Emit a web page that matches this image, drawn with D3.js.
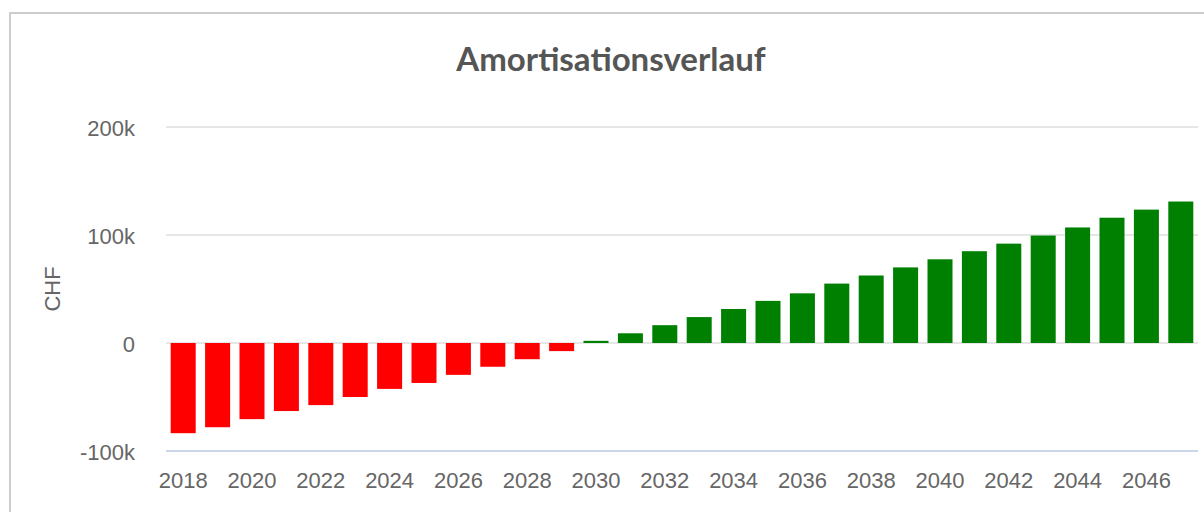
<!DOCTYPE html>
<html>
<head>
<meta charset="utf-8">
<script src="https://cdn.jsdelivr.net/npm/d3@7"></script>
<style>
  body { margin: 0; background: #fff; }
  svg { display: block; }
</style>
</head>
<body>
<svg id="chart"></svg>
<script>
// Amortisation per year (CHF)
const years = d3.range(2018, 2048).map(String);
const amortisation = [
  -83500, -78000, -70500, -63000, -57500, -50000, -42500, -37000, -29500, -22000, -15000, -7500,
  2000, 9000, 16500, 24000, 31500, 39000, 46000, 55000, 62500, 70000, 77500, 85000, 92000,
  99500, 107000, 116000, 123500, 131000
];
const yTicks = [-100000, 0, 100000, 200000];
const xTickLabels = years.filter((d, i) => i % 2 === 0);

const width = 1204;
const height = 512;
const plot = { left: 166, right: 1198, top: 127, bottom: 451 };

const svg = d3.select("#chart")
  .attr("width", width)
  .attr("height", height);

// chart container border
svg.append("rect")
  .attr("x", 10)
  .attr("y", 13)
  .attr("width", 1400)
  .attr("height", 700)
  .attr("fill", "none")
  .attr("stroke", "#cccccc")
  .attr("stroke-width", 2);

// title
svg.append("text")
  .attr("x", 611)
  .attr("y", 71)
  .attr("text-anchor", "middle")
  .style("font-family", "Lato, 'Open Sans', sans-serif")
  .style("font-weight", 700)
  .style("font-size", "33px")
  .style("fill", "#555555")
  .text("Amortisationsverlauf");

// scales
const x = d3.scaleBand()
  .domain(years)
  .range([plot.left, plot.right])
  .paddingInner(0.273)
  .paddingOuter(0.1365);

const y = d3.scaleLinear()
  .domain([-100000, 200000])
  .range([plot.bottom, plot.top]);

// grid lines
svg.append("g")
  .selectAll("line")
  .data(yTicks.filter(d => d !== -100000))
  .join("line")
  .attr("x1", plot.left)
  .attr("x2", plot.right)
  .attr("y1", d => y(d))
  .attr("y2", d => y(d))
  .attr("stroke", "#e6e6e6")
  .attr("stroke-width", 2);

// bars
svg.append("g")
  .selectAll("rect")
  .data(amortisation)
  .join("rect")
  .attr("x", (d, i) => x(years[i]))
  .attr("width", x.bandwidth())
  .attr("y", d => y(Math.max(0, d)))
  .attr("height", d => Math.abs(y(d) - y(0)))
  .attr("fill", d => d < 0 ? "#ff0000" : "#008000");

// x axis
const xAxis = svg.append("g")
  .attr("transform", `translate(0,${plot.bottom})`)
  .call(d3.axisBottom(x).tickValues(xTickLabels).tickSize(0).tickPadding(21));
xAxis.select(".domain").remove();
xAxis.append("line")
  .attr("x1", plot.left)
  .attr("x2", plot.right)
  .attr("stroke", "#ccd6eb")
  .attr("stroke-width", 2);

// y axis
const yAxis = svg.append("g")
  .attr("transform", `translate(${plot.left},0)`)
  .call(d3.axisLeft(y)
    .tickValues(yTicks)
    .tickSize(0)
    .tickPadding(31)
    .tickFormat(d => d === 0 ? "0" : (d / 1000) + "k"));
yAxis.select(".domain").remove();
yAxis.selectAll("text").attr("dy", "0.4em");

svg.selectAll(".tick text")
  .style("font-family", "'Liberation Sans', Arial, sans-serif")
  .style("font-size", "22px")
  .style("fill", "#666666");

// y axis title
svg.append("text")
  .attr("transform", "translate(60,289) rotate(-90)")
  .attr("text-anchor", "middle")
  .style("font-family", "'Liberation Sans', Arial, sans-serif")
  .style("font-size", "22px")
  .style("fill", "#666666")
  .text("CHF");
</script>
</body>
</html>
